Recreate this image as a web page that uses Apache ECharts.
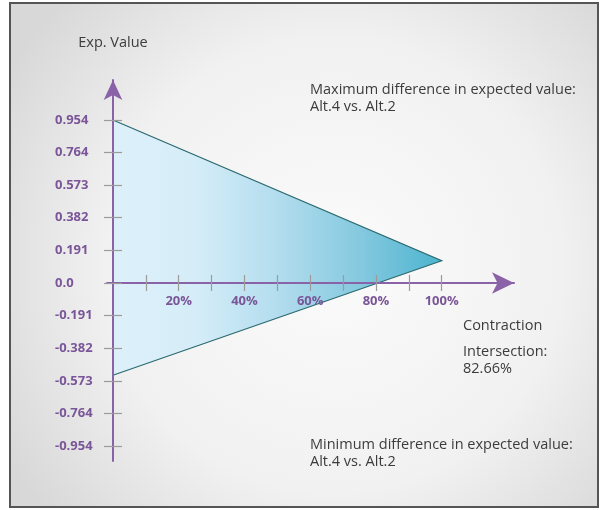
<!DOCTYPE html>
<html>
<head>
<meta charset="utf-8">
<title>Exp. Value vs Contraction</title>
<style>
  html, body { margin: 0; padding: 0; background: #fff; }
  #main { width: 601px; height: 510px; }
</style>
</head>
<body>
<div id="main"></div>
<script src="https://cdn.jsdelivr.net/npm/echarts@6/dist/echarts.min.js"></script>
<script>
// triangle vertices: contraction (%) and expected value difference
var contraction = [0, 100, 0];
var expValue = [0.954, 0.13, -0.54];

// axis ticks and labels
var yTicks = [-0.954, -0.764, -0.573, -0.382, -0.191, 0, 0.191, 0.382, 0.573, 0.764, 0.954];
var yTickLabels = ['-0.954', '-0.764', '-0.573', '-0.382', '-0.191', '0.0', '0.191', '0.382', '0.573', '0.764', '0.954'];
var xTicks = [10, 20, 30, 40, 50, 60, 70, 80, 90, 100];
var xLabelValues = [20, 40, 60, 80, 100];

var FONT = '"Open Sans", "Liberation Sans", sans-serif';
var PURPLE = '#8a62a8';
var LABEL = '#7a5698';
var TICK = '#9b9b9b';
var TEXT = '#3c3c3c';

var chart = echarts.init(document.getElementById('main'));

function yLabel(v) {
  var i = yTicks.indexOf(v);
  return i >= 0 ? yTickLabels[i] : '';
}

var xRange = { min: -1.8, max: 122 };
var yRange = { min: -1.042, max: 1.188 };
// axes sit on the zero of the other axis: shift them from the grid edge
var xOffset = -178;
var yOffset = -6;

chart.setOption({
  backgroundColor: '#fff',
  animation: false,
  grid: { left: 107, right: 87, top: 80, bottom: 49 },
  graphic: [
    {
      type: 'rect', z: -100, silent: true,
      shape: { x: 10, y: 3, width: 588, height: 504 },
      style: {
        fill: new echarts.graphic.RadialGradient(0.55, 0.52, 0.75, [
          { offset: 0, color: '#fbfbfb' },
          { offset: 0.6, color: '#f1f1f1' },
          { offset: 1, color: '#d8d8d8' }
        ]),
        stroke: '#555', lineWidth: 2
      }
    },
    {
      type: 'text', x: 310, y: 98,
      style: { text: 'Maximum difference in expected value:\nAlt.4 vs. Alt.2', fill: TEXT, font: '14.5px ' + FONT, lineHeight: 17, verticalAlign: 'middle' }
    },
    {
      type: 'text', x: 463, y: 326,
      style: { text: 'Contraction', fill: TEXT, font: '14.5px ' + FONT, verticalAlign: 'middle' }
    },
    {
      type: 'text', x: 463, y: 360,
      style: { text: 'Intersection:\n82.66%', fill: TEXT, font: '14.5px ' + FONT, lineHeight: 17, verticalAlign: 'middle' }
    },
    {
      type: 'text', x: 310, y: 453,
      style: { text: 'Minimum difference in expected value:\nAlt.4 vs. Alt.2', fill: TEXT, font: '14.5px ' + FONT, lineHeight: 17, verticalAlign: 'middle' }
    }
  ],
  xAxis: [
    {
      type: 'value', min: xRange.min, max: xRange.max, z: 3,
      position: 'bottom', offset: xOffset,
      splitLine: { show: false },
      axisLine: { onZero: false, symbol: ['none', 'arrow'], symbolSize: [16, 22], lineStyle: { color: PURPLE, width: 2 } },
      axisTick: { show: true, length: 8, customValues: xTicks, lineStyle: { color: TICK, width: 1.2 } },
      axisLabel: { customValues: xLabelValues, formatter: '{value}%', margin: 12, color: LABEL, fontWeight: 'bold', fontSize: 13, fontFamily: FONT }
    },
    {
      type: 'value', min: xRange.min, max: xRange.max, z: 3,
      position: 'bottom', offset: xOffset,
      splitLine: { show: false },
      axisLine: { show: false, onZero: false },
      axisTick: { show: true, inside: true, length: 8, customValues: xTicks, lineStyle: { color: TICK, width: 1.2 } },
      axisLabel: { show: false }
    }
  ],
  yAxis: [
    {
      type: 'value', min: yRange.min, max: yRange.max, z: 3,
      position: 'left', offset: yOffset,
      name: 'Exp. Value', nameLocation: 'end', nameGap: 30,
      nameTextStyle: { color: TEXT, fontSize: 14.5, fontFamily: FONT, align: 'center' },
      splitLine: { show: false },
      axisLine: { onZero: false, symbol: ['none', 'arrow'], symbolSize: [14, 20], lineStyle: { color: PURPLE, width: 2 } },
      axisTick: { show: true, length: 9, customValues: yTicks, lineStyle: { color: TICK, width: 1.2 } },
      axisLabel: { customValues: yTicks, formatter: yLabel, align: 'left', margin: 58, color: LABEL, fontWeight: 'bold', fontSize: 13, fontFamily: FONT }
    },
    {
      type: 'value', min: yRange.min, max: yRange.max, z: 3,
      position: 'left', offset: yOffset,
      splitLine: { show: false },
      axisLine: { show: false, onZero: false },
      axisTick: { show: true, inside: true, length: 9, customValues: yTicks, lineStyle: { color: TICK, width: 1.2 } },
      axisLabel: { show: false }
    }
  ],
  series: [
    {
      type: 'custom',
      xAxisIndex: 0, yAxisIndex: 0, z: 1,
      data: contraction.map(function (c, i) { return [c, expValue[i]]; }),
      renderItem: function (params, api) {
        if (params.dataIndex !== 0) return;
        var pts = contraction.map(function (c, i) { return api.coord([c, expValue[i]]); });
        return {
          type: 'group',
          children: [
            {
              type: 'polygon',
              shape: { points: pts },
              style: {
                fill: new echarts.graphic.LinearGradient(0, 0, 1, 0, [
                  { offset: 0, color: '#ddf0fa' },
                  { offset: 0.25, color: '#d5edf8' },
                  { offset: 0.5, color: '#b3ddee' },
                  { offset: 0.75, color: '#85c9df' },
                  { offset: 1, color: '#4cb4cf' }
                ])
              }
            },
            {
              type: 'polyline',
              shape: { points: pts },
              style: { fill: null, stroke: '#2b6a70', lineWidth: 1.2 }
            }
          ]
        };
      }
    }
  ]
});
</script>
</body>
</html>
